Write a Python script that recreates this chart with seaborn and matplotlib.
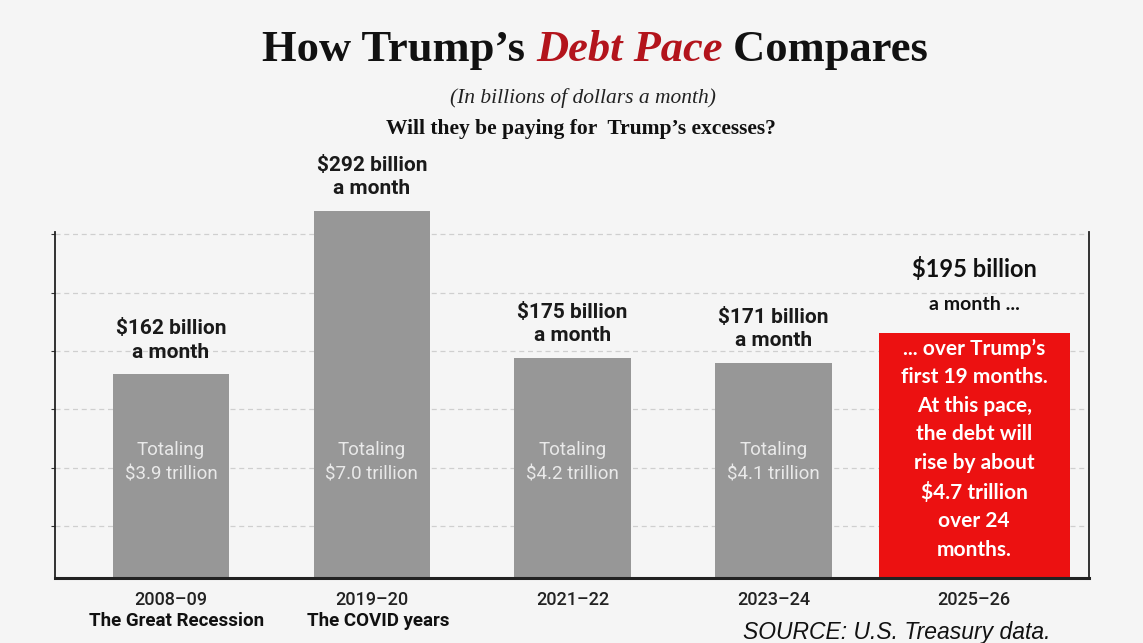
import numpy as np
import pandas as pd
import matplotlib
matplotlib.use("Agg")
import matplotlib.pyplot as plt
import matplotlib.transforms as mtransforms
import seaborn as sns

# data
years = ["2008–09", "2019–20", "2021–22", "2023–24", "2025–26"]
per_month = [162, 292, 175, 171, 195]
totals = ["$3.9 trillion", "$7.0 trillion", "$4.2 trillion", "$4.1 trillion", ""]
eras = ["The Great Recession", "The COVID years", "", "", ""]
red_note = ["... over Trump’s", "first 19 months.", "At this pace,", "the debt will",
            "rise by about", "$4.7 trillion", "over 24", "months."]

BG = "#f5f5f5"
GREY = "#979797"
RED = "#ec1111"
TITLE_RED = "#b3141c"

sns.set_theme(style="white")
plt.rcParams["font.family"] = ["Roboto", "DejaVu Sans"]
plt.rcParams["text.parse_math"] = False

df = pd.DataFrame({"period": years, "billions": per_month})

fig = plt.figure(figsize=(11.43, 6.43), dpi=100, facecolor=BG)
ax = fig.add_axes([0.048, 0.101, 0.905, 0.538])
ax.set_facecolor(BG)

sns.barplot(data=df, x="period", y="billions", hue="period",
            palette=[GREY, GREY, GREY, GREY, RED], legend=False,
            width=0.58, saturation=1, ax=ax)

ax.set_xlim(-0.578, 4.573)
ax.set_ylim(0, 275)

# the last bar is drawn wider, the tall one sticks out of the frame
bars = ax.patches
bars[-1].set_width(0.95)
bars[-1].set_x(4 - 0.475)
for b in bars:
    b.set_clip_on(False)
    b.set_linewidth(0)

# dashed grid
grid_y = np.arange(41, 276, 46.5)
ax.set_yticks(grid_y)
ax.set_yticklabels([])
ax.yaxis.grid(True, linestyle=(0, (4, 3)), color="#cfcfcf", linewidth=0.9)
ax.set_axisbelow(True)
ax.tick_params(axis="y", left=True, length=3, width=0.8, color="#333333")
ax.tick_params(axis="x", bottom=False, labelsize=13, labelcolor="#222222", pad=3)
for lab in ax.get_xticklabels():
    lab.set_fontweight("medium")
ax.set_xlabel("")
ax.set_ylabel("")

for side in ["left", "right", "bottom"]:
    ax.spines[side].set_visible(True)
    ax.spines[side].set_color("#222222")
ax.spines["left"].set_linewidth(1.3)
ax.spines["right"].set_linewidth(1.3)
ax.spines["bottom"].set_linewidth(2.2)
ax.spines["top"].set_visible(False)

# labels above the grey bars and inside them
for i, b in enumerate(bars[:-1]):
    cx = b.get_x() + b.get_width() / 2
    ax.annotate(f"${per_month[i]} billion\na month", (cx, b.get_height()),
                xytext=(0, 9), textcoords="offset points", ha="center", va="bottom",
                fontsize=15, fontweight="bold", color="#1a1a1a", linespacing=1.3,
                annotation_clip=False)
    ax.text(cx, 92, f"Totaling\n{totals[i]}", ha="center", va="center",
            fontsize=13.5, color="#e9e9e9", linespacing=1.5)

# red bar
rb = bars[-1]
rcx = rb.get_x() + rb.get_width() / 2
ax.annotate(f"${per_month[-1]} billion", (rcx, rb.get_height()),
            xytext=(0, 37), textcoords="offset points", ha="center", va="bottom",
            fontsize=17, fontweight="bold", color="#111111", family=["Lato", "DejaVu Sans"],
            annotation_clip=False)
ax.annotate("a month ...", (rcx, rb.get_height()),
            xytext=(0, 14), textcoords="offset points", ha="center", va="bottom",
            fontsize=14, fontweight="bold", color="#111111", family=["Lato", "DejaVu Sans"],
            annotation_clip=False)
ax.text(rcx, rb.get_height() / 2 + 5, "\n".join(red_note), ha="center", va="center",
        fontsize=15, fontweight="bold", color="white", linespacing=1.53,
        family=["Lato", "DejaVu Sans"])

# era names under the years
trans = mtransforms.blended_transform_factory(ax.transData, fig.transFigure)
for i, era in enumerate(eras):
    if era:
        fig.text(i + 0.03, 1 - 621 / 643, era, transform=trans, ha="center", va="center",
                 fontsize=13.5, fontweight="bold", color="#111111")

# title built from pieces so the middle can be red italic
renderer = fig.canvas.get_renderer()
pieces = [("How Trump’s ", "normal", "#111111"),
          ("Debt Pace", "italic", TITLE_RED),
          (" Compares", "normal", "#111111")]
texts = []
for s, style, col in pieces:
    t = fig.text(0, 1 - 50 / 643, s, fontsize=32, fontweight="bold", style=style,
                 color=col, family=["Liberation Serif", "DejaVu Serif"], va="center")
    texts.append(t)
widths = [t.get_window_extent(renderer).width for t in texts]
x0 = 595 - sum(widths) / 2
for t, w in zip(texts, widths):
    t.set_x(x0 / 1143)
    x0 += w

fig.text(583 / 1143, 1 - 98 / 643, "(In billions of dollars a month)", ha="center", va="center",
         fontsize=15.5, style="italic", color="#222222", family=["Liberation Serif", "DejaVu Serif"])
fig.text(581 / 1143, 1 - 129 / 643, "Will they be paying for  Trump’s excesses?", ha="center",
         va="center", fontsize=15.5, fontweight="bold", color="#111111",
         family=["Liberation Serif", "DejaVu Serif"])

fig.text(743 / 1143, 1 - 621 / 643, "SOURCE: U.S. Treasury data.", ha="left", va="top",
         fontsize=16.5, style="italic", color="#111111", family=["Liberation Sans", "DejaVu Sans"])

fig.savefig("out.png", dpi=100, facecolor=BG)
